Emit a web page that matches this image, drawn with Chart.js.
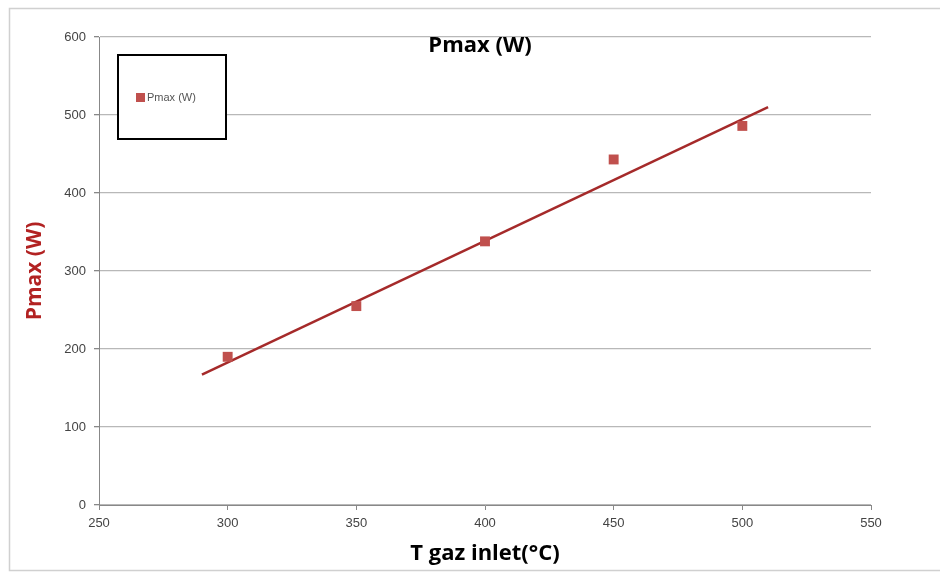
<!DOCTYPE html>
<html>
<head>
<meta charset="utf-8">
<script src="https://cdn.jsdelivr.net/npm/chart.js@4/dist/chart.umd.min.js"></script>
<style>
  html, body { margin: 0; padding: 0; background: #fff; }
  #wrap { position: relative; width: 940px; height: 576px; }
</style>
</head>
<body>
<div id="wrap"><canvas id="chartPmax" width="940" height="576"></canvas></div>
<script>
(function () {
    'use strict';

    // data
    const tempInlet = [300, 350, 400, 450, 500];
    const pmaxW     = [190, 255, 338, 443, 486];
    const trendX    = [290, 510];
    const trendY    = [167, 510];

    const MARKER = '#C0504D';
    const TREND  = '#A52A2A';
    const GRID   = '#B8B8B8';
    const FONT   = '"Liberation Sans Narrow", "Liberation Sans", Arial, sans-serif';
    const TITLEFONT = '"Open Sans", "Liberation Sans", sans-serif';

    const points = tempInlet.map((x, i) => ({ x: x, y: pmaxW[i] }));
    const trend  = trendX.map((x, i) => ({ x: x, y: trendY[i] }));

    const frame = {
        id: 'frame',
        beforeDraw(chart) {
            const c = chart.ctx;
            c.save();
            c.strokeStyle = '#D0D0D0';
            c.lineWidth = 1.5;
            c.strokeRect(9.5, 8.5, 940, 562);
            c.restore();
        },
        afterDraw(chart) {
            const c = chart.ctx;
            c.save();
            // title
            c.fillStyle = '#000';
            c.font = 'bold 22px ' + TITLEFONT;
            c.textAlign = 'center';
            c.textBaseline = 'middle';
            c.fillText('Pmax (W)', 480, 46);
            // legend box
            c.fillStyle = '#fff';
            c.fillRect(118, 55, 108, 84);
            c.strokeStyle = '#000';
            c.lineWidth = 2;
            c.strokeRect(118, 55, 108, 84);
            c.fillStyle = MARKER;
            c.fillRect(136, 93, 9, 9);
            c.fillStyle = '#555';
            c.font = '11px ' + FONT;
            c.textAlign = 'left';
            c.fillText(chart.data.datasets[0].label, 147, 98);
            c.restore();
        }
    };

    new Chart(document.getElementById('chartPmax'), {
        type: 'scatter',
        data: {
            datasets: [
                {
                    label: 'Pmax (W)',
                    data: points,
                    pointStyle: 'rect',
                    pointRadius: 7,
                    backgroundColor: MARKER,
                    borderColor: MARKER,
                    borderWidth: 0,
                    order: 0
                },
                {
                    label: 'trend',
                    data: trend,
                    showLine: true,
                    borderColor: TREND,
                    borderWidth: 2.5,
                    pointRadius: 0,
                    order: 1
                }
            ]
        },
        plugins: [frame],
        options: {
            responsive: false,
            animation: false,
            layout: { padding: { left: 18, right: 69, top: 37, bottom: 5 } },
            plugins: {
                legend: { display: false },
                title: { display: false },
                tooltip: { enabled: false }
            },
            scales: {
                x: {
                    type: 'linear',
                    min: 250, max: 550,
                    ticks: { stepSize: 50, color: '#444', font: { family: FONT, size: 13 }, padding: 6 },
                    grid: { drawOnChartArea: false, drawTicks: true, tickLength: 5, color: '#888' },
                    border: { color: '#888', width: 1 },
                    title: { display: true, text: 'T gaz inlet(°C)', color: '#000',
                             font: { family: TITLEFONT, size: 22, weight: 'bold' }, padding: { top: 0 } },
                    afterFit(s) { s.height = 66; }
                },
                y: {
                    min: 0, max: 600,
                    ticks: { stepSize: 100, color: '#444', font: { family: FONT, size: 13 }, padding: 8 },
                    grid: { color: GRID, lineWidth: 1.3, tickLength: 5, tickColor: '#888' },
                    border: { color: '#888', width: 1 },
                    title: { display: true, text: 'Pmax (W)', color: '#B22222',
                             font: { family: TITLEFONT, size: 21, weight: 'bold' }, padding: { bottom: 4 } },
                    afterFit(s) { s.width = 81; }
                }
            }
        }
    });
})();
</script>
</body>
</html>
